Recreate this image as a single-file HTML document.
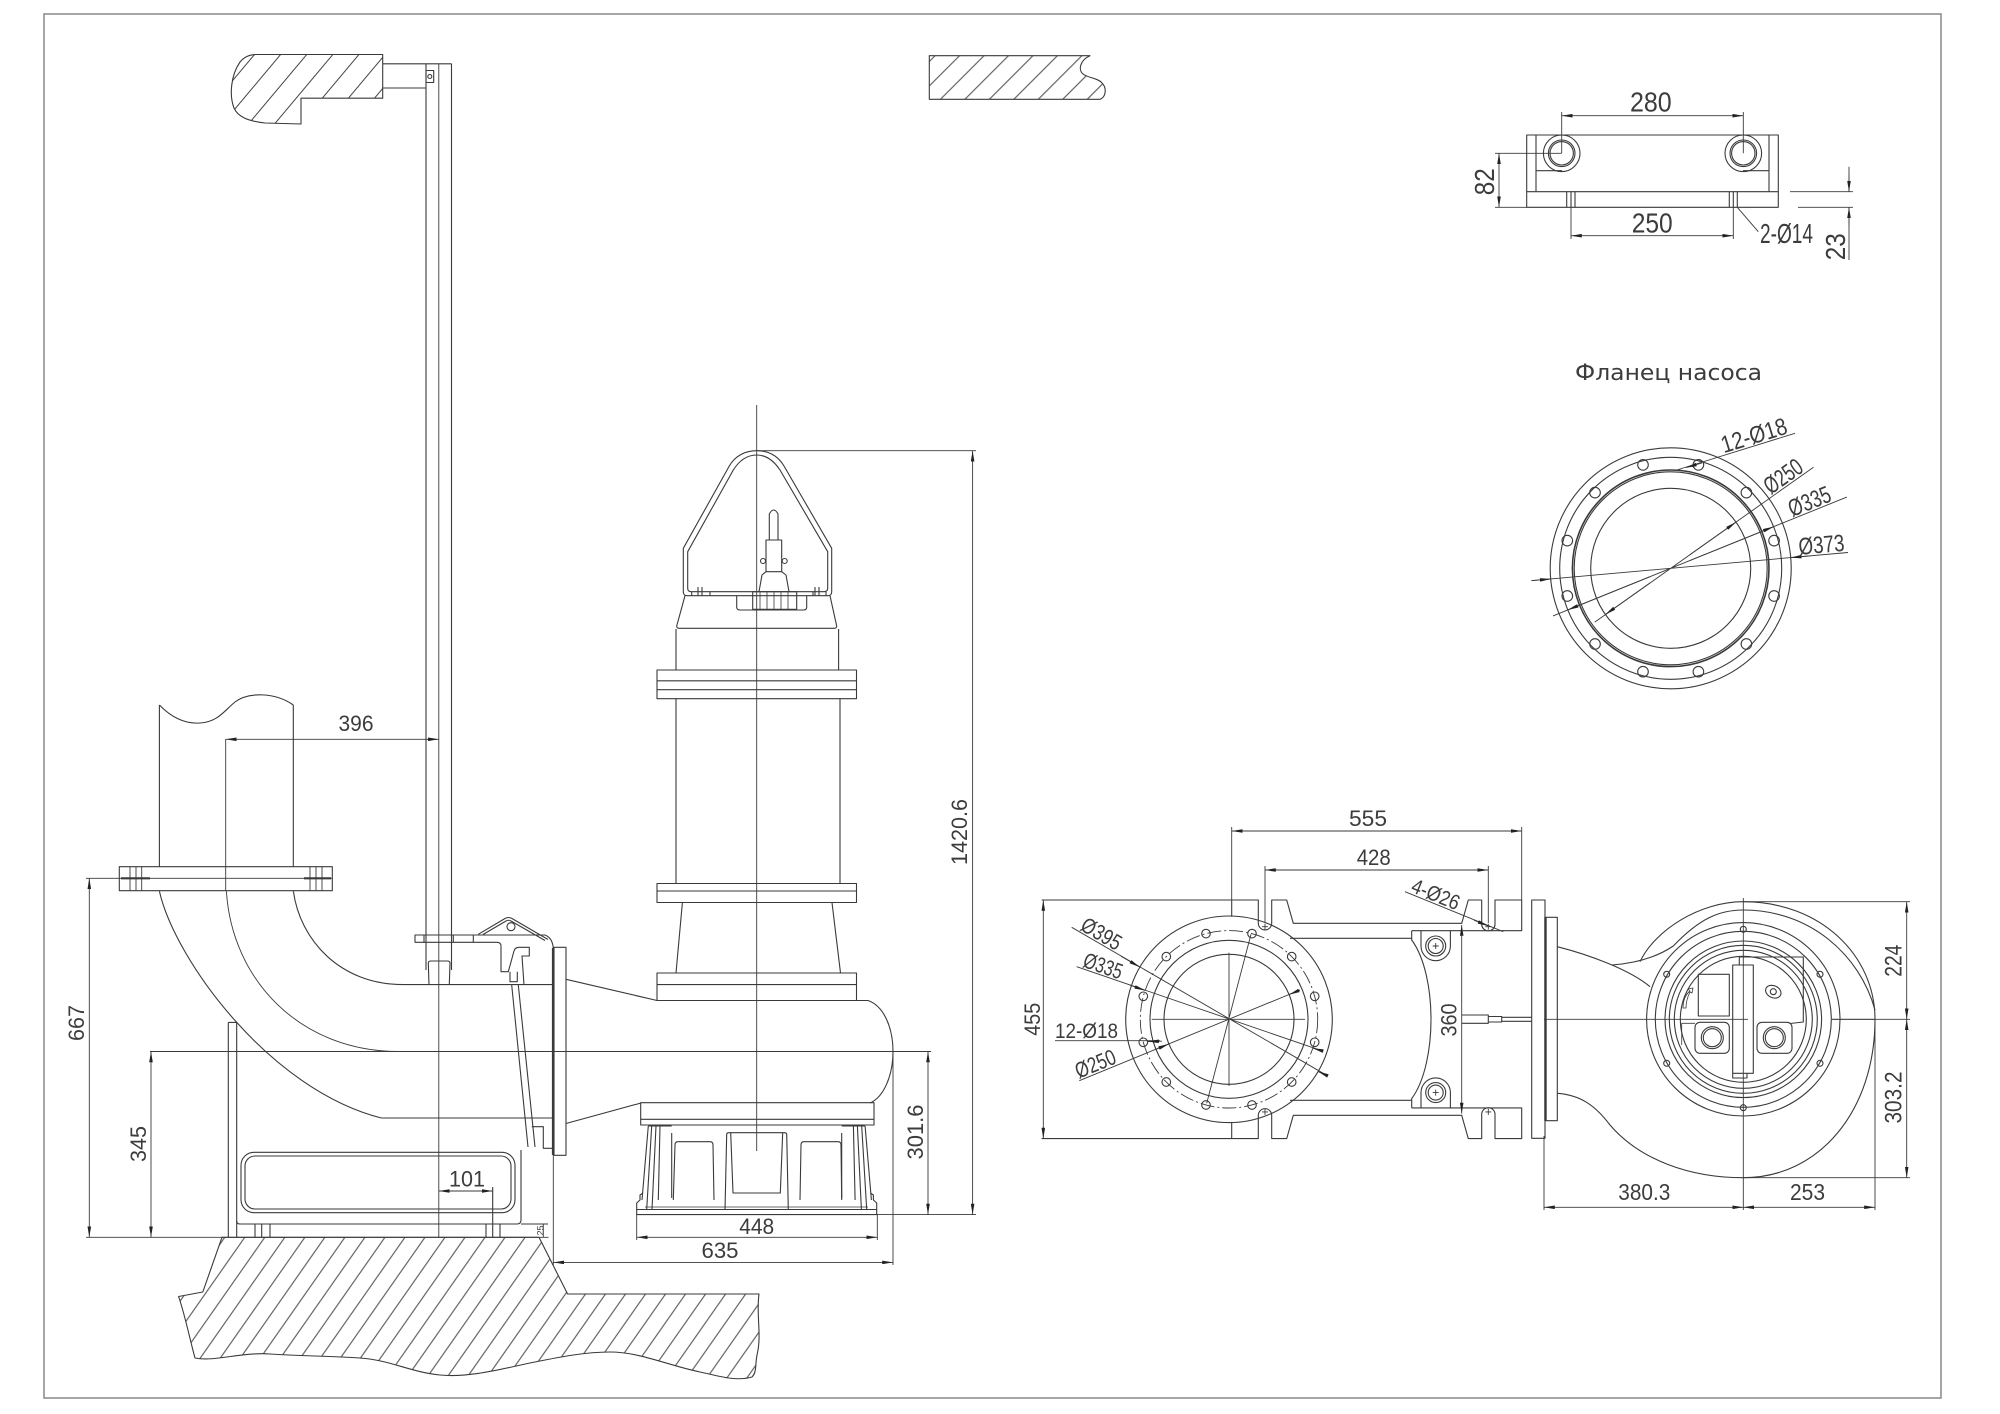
<!DOCTYPE html>
<html><head><meta charset="utf-8"><style>
html,body{margin:0;padding:0;background:#fff;}
svg{display:block;}
text{font-family:"Liberation Sans","DejaVu Sans",sans-serif;fill:#3c3c3c;stroke:none;}
.d{font-size:22px;text-anchor:middle;}
.b{font-size:28px;text-anchor:middle;}
</style></head><body>
<svg width="2000" height="1414" viewBox="0 0 2000 1414" xmlns="http://www.w3.org/2000/svg">
<defs>
<marker id="a" viewBox="0 0 12 4" refX="12" refY="2" markerWidth="11" markerHeight="3.6" orient="auto-start-reverse" markerUnits="userSpaceOnUse"><path d="M0,0L12,2L0,4z" fill="#222"/></marker>
<pattern id="h45" patternUnits="userSpaceOnUse" width="17.3" height="20" patternTransform="rotate(45)"><path d="M8.6,0V20" stroke="#444" stroke-width="1"/></pattern>
<pattern id="htl" patternUnits="userSpaceOnUse" width="20" height="20" patternTransform="rotate(40)"><path d="M10,0V20" stroke="#444" stroke-width="1"/></pattern>
<pattern id="hg" patternUnits="userSpaceOnUse" width="16.4" height="20" patternTransform="rotate(35)"><path d="M8.2,0V20" stroke="#444" stroke-width="1"/></pattern>
</defs>
<rect width="2000" height="1414" fill="#fff"/>
<rect x="44" y="14" width="1897" height="1384" fill="none" stroke="#888" stroke-width="1.5"/>

<g fill="none" stroke="#3a3a3a" stroke-width="1.1" stroke-linejoin="round">
<!-- ===== LEFT ELEVATION ===== -->
<!-- ceiling block 1 -->
<path d="M256,54.5 L382.7,54.5 L382.7,98.2 L301,98.2 L301,124 L265,123 C248,121 238,117 234,108 C229,95 231,75 240,62 C244,57 249,54.5 256,54.5 Z" fill="url(#htl)"/>
<!-- arm -->
<path d="M382.7,63.8 L451.5,63.8 M382.7,88 L426,88"/>
<rect x="426" y="70.5" width="7.7" height="12"/>
<circle cx="429.8" cy="76.5" r="2"/>
<!-- rails -->
<path d="M426,63.8 V970 M451.5,63.8 V970"/>
<path d="M438.8,63.8 V1237" stroke-width="0.9"/>
<!-- ceiling block 2 -->
<path d="M929.3,55.7 L1090,55.7 C1080,60 1078,70 1083,74 C1088,78 1098,78 1102,83 C1107,88 1106,97 1100,99.3 L929.3,99.3 Z" fill="url(#h45)"/>

<!-- discharge pipe -->
<path d="M159.4,705 V866.7 M293.3,705 V866.7"/>
<path d="M159.4,705 C172,718 186,724 200,723 C218,722 225,710 235,702 C248,692 275,692 293.3,705"/>
<path d="M225.7,739 V891" stroke-width="0.9"/>
<rect x="119.3" y="866.7" width="213" height="24"/>
<path d="M119.3,878.3 H332.3" stroke-width="0.9"/>
<path d="M121,878.3 H150 M304,878.3 H331" stroke-width="2.2"/>
<path d="M130,866.7V890.7 M136,866.7V890.7 M141.7,866.7V890.7 M310,866.7V890.7 M316,866.7V890.7 M322,866.7V890.7" stroke-width="0.9"/>
<!-- elbow -->
<path d="M159.4,891.3 C175,960 270,1090 381.4,1118"/>
<path d="M293.4,891.3 C300,940 340,984.6 403,984.6"/>
<path d="M226.4,891.3 C232,980 300,1051.5 398.6,1051.5" stroke-width="0.9"/>
<path d="M403,984.6 H553.3 M381.4,1118 H553.3"/>
<path d="M150,1051.5 H931" stroke-width="0.9"/>
<!-- stand / box -->
<path d="M228.3,1022.4 V1237 M236.7,1022.4 V1237 M228.3,1022.4 H236.7"/>
<path d="M236.7,1221 Q236.7,1224 240,1224 L517,1224 Q521,1224 521,1220 L521,1150"/>
<rect x="241" y="1152.3" width="274" height="60.4" rx="13"/>
<rect x="245" y="1156" width="266" height="53" rx="10"/>
<path d="M255,1224V1237 M261.7,1224V1237 M270,1224V1237 M486,1224V1237 M492.7,1187V1237 M500,1224V1237"/>
<!-- coupling rods -->
<path d="M511.7,985 L528,1147 M518.3,985 L535,1147"/>
<path d="M531.7,1126.7 H543.3 V1148.3 H553.3"/>
<path d="M521,1224 H548 M543.3,1224 V1237" stroke-width="0.9"/>
<!-- outlet flange plate -->
<rect x="554" y="947.3" width="12" height="208"/>
<path d="M552.7,948 V1155" stroke-width="1.6"/>
<path d="M553.3,1155 V1265" stroke-width="0.9"/>
<!-- bracket -->
<rect x="415" y="935" width="58.3" height="7.3"/>
<path d="M424,935V942.3 M453.3,935V942.3"/>
<path d="M473.3,935 L545,935 C550,937 553.3,942 553.3,950 L553.3,985"/>
<path d="M478.3,934.3 L505,918.5 Q508.5,916.5 512,918.5 L548,939.5"/>
<path d="M483,934.5 L506,921 Q508.5,919.5 511,921 L545,940.5"/>
<circle cx="511" cy="926.7" r="4"/>
<path d="M473.3,942.3 L497,942.3 Q501,942.3 501,946.3 L501,971.7 L508.3,971.7 L514,951 Q515,947.3 519,947.3 L529.3,947.3 L529.3,956 L522,956 L524,985"/>
<path d="M510,971.7 L510,981.7 L517.3,981.7 L517.3,971.7"/>
<path d="M429,984.6 L428.3,963 Q428.3,961 431,961 L447.3,961 Q450,961 450,963 L449.3,984.6"/>
<!-- discharge taper / volute -->
<path d="M566,979.3 L657,1000.5 M566,1123.5 L641,1103"/>
<path d="M856.5,1000.5 L868,1000.5 C884,1006 893,1028 893,1051.5 C893,1075 884,1097 870,1103"/>
<rect x="640.7" y="1102.7" width="233.3" height="22.3"/>
<path d="M640.7,1119.3 H874"/>
<!-- motor -->
<rect x="657" y="973" width="199.5" height="27.5"/>
<path d="M657,984.6 H856.5"/>
<path d="M682.4,902.6 L676,973 M832,902.6 L840.5,973"/>
<rect x="657" y="883.5" width="199.5" height="19"/>
<path d="M657,891 H856.5"/>
<path d="M676,698.7 V883.5 M840,698.7 V883.5"/>
<rect x="657" y="670" width="199.5" height="28.7"/>
<path d="M657,680.8 H856.5 M657,689.7 H856.5"/>
<path d="M676,629 V670 M838.6,629 V670"/>
<path d="M685,595.7 L676.7,626 Q676.7,628.3 679,628.3 L834.4,628.3 Q836.7,628.3 836.7,626 L830,595.7"/>
<path d="M736.7,595.7 L736.7,607 Q736.7,610 740,610 L803.7,610 Q806.7,610 806.7,607 L806.7,595.7"/>
<!-- handle -->
<path d="M683.3,591.7 L683.3,548.3 L729.3,466 C735,456 745,450.7 756.7,450.7 C768.4,450.7 778,456 784,466 L831.7,548.3 L831.7,591.7 Q831.7,595.7 827.7,595.7 L687.3,595.7 Q683.3,595.7 683.3,591.7 Z"/>
<path d="M687.7,588.3 L687.7,551.7 L733.3,470 C739,461 747,455 756.7,455 C766.4,455 774,461 780,470 L827.7,551.7 L827.7,588.3 Q827.7,591.7 824,591.7 L691,591.7 Q687.7,591.7 687.7,588.3 Z"/>
<path d="M691.7,591.7 V595.7 M710,591.7 V595.7 M698,587 V595.7 M702,587 V595.7 M813,591.7 V595.7 M826,591.7 V595.7 M815,587 V595.7 M819,587 V595.7"/>
<!-- cable gland -->
<path d="M769.3,540 L769.3,514 Q773.7,506 778,514 L778,540"/>
<rect x="766" y="540" width="15.7" height="31.7"/>
<path d="M766,571.7 L762,575 L759,591.7 M781.7,571.7 L786,575 L789,591.7"/>
<circle cx="763" cy="561" r="2.5"/><circle cx="784.7" cy="561" r="2.5"/>
<rect x="752.7" y="591.7" width="44" height="17.6"/>
<path d="M760,591.7V609.3 M767,591.7V609.3 M774,591.7V609.3 M781,591.7V609.3 M788,591.7V609.3" stroke-width="0.8"/>
<!-- centreline -->
<path d="M756.7,405 V1151" stroke-width="0.9"/>
<!-- feet -->
<rect x="636.7" y="1209.5" width="240" height="5.1"/>
<path d="M645,1207 H868" stroke-width="0.8"/>
<path d="M636.7,1209.5 L636.7,1203 L640,1200 L640,1195 L643,1193 M876.7,1209.5 L876.7,1203 L873.4,1200 L873.4,1195 L870.4,1193"/>
<path d="M648.3,1126 L642,1200 M651.7,1126 L646.7,1209.5 M656,1126 L652,1209.5 M660,1126 L658.3,1200 M671.7,1133 L671.7,1198 M648.3,1126 H671.7"/>
<path d="M865.1,1126 L871.4,1200 M861.7,1126 L866.7,1209.5 M857.4,1126 L861.4,1209.5 M853.4,1126 L855.1,1200 M841.7,1133 L841.7,1198 M865.1,1126 H841.7"/>
<path d="M725,1210 L726.7,1134 Q727,1132.7 729,1132.7 L784.3,1132.7 Q786.3,1132.7 786.7,1134 L788.3,1210"/>
<path d="M730.7,1132.7 L733,1193 L780.3,1193 L782.7,1132.7"/>
<path d="M673.3,1200 L675,1145 Q675,1141.7 678,1141.7 L710,1141.7 Q713,1141.7 713,1145 L714,1200"/>
<path d="M800,1200 L801,1145 Q801,1141.7 804,1141.7 L838,1141.7 Q841,1141.7 841,1145 L841.7,1200"/>
<!-- ground -->
<path d="M222,1237.3 L539,1237.3 L567.6,1294 L759,1294 C756,1315 762,1335 757,1355 C755,1365 757,1372 752,1377 C735,1382 715,1375 700,1372 C670,1366 640,1352 610,1352 C585,1352 560,1357 535,1362 C505,1368 470,1378 440,1375 C410,1372 390,1360 360,1358 C330,1356 300,1356 270,1354 C240,1352 215,1362 195,1358 C190,1340 185,1315 178.6,1296.5 L202.8,1292 Z" fill="url(#hg)"/>
<!-- left dims -->
<path d="M86,878.3 H119.3 M86,1237.3 H548.5" stroke-width="0.9"/>
<line x1="89.3" y1="878.3" x2="89.3" y2="1237.3" marker-start="url(#a)" marker-end="url(#a)" stroke-width="0.9"/>
<line x1="151" y1="1051.5" x2="151" y2="1237.3" marker-start="url(#a)" marker-end="url(#a)" stroke-width="0.9"/>
<line x1="225.7" y1="739.3" x2="438.8" y2="739.3" marker-start="url(#a)" marker-end="url(#a)" stroke-width="0.9"/>
<line x1="438.8" y1="1191" x2="492.7" y2="1191" marker-start="url(#a)" marker-end="url(#a)" stroke-width="0.9"/>
<path d="M757,450.7 H976 M874,1214.6 H976 M893,1051.5 V1265 M931,1051.5 H931 M636.7,1214 V1240 M877.3,1214 V1240" stroke-width="0.9"/>
<line x1="972.6" y1="450.7" x2="972.6" y2="1214.6" marker-start="url(#a)" marker-end="url(#a)" stroke-width="0.9"/>
<line x1="928" y1="1051.5" x2="928" y2="1214.6" marker-start="url(#a)" marker-end="url(#a)" stroke-width="0.9"/>
<line x1="636.7" y1="1237.3" x2="877.3" y2="1237.3" marker-start="url(#a)" marker-end="url(#a)" stroke-width="0.9"/>
<line x1="553.3" y1="1262.4" x2="893" y2="1262.4" marker-start="url(#a)" marker-end="url(#a)" stroke-width="0.9"/>

<!-- ===== TOP RIGHT BRACKET ===== -->
<rect x="1526.7" y="135" width="251.6" height="72.3"/>
<path d="M1526.7,191.7 H1778.3 M1536,135 V191.7 M1769,135 V191.7 M1536,170.7 H1562 M1743,170.7 H1769"/>
<circle cx="1561.7" cy="153.3" r="18.3"/><circle cx="1561.7" cy="153.3" r="13.3"/><circle cx="1561.7" cy="153.3" r="11.7"/>
<circle cx="1743.3" cy="153.3" r="18.3"/><circle cx="1743.3" cy="153.3" r="13.3"/><circle cx="1743.3" cy="153.3" r="11.7"/>
<path d="M1566.7,191.7V207.3 M1571,191.7V207.3 M1575,191.7V207.3 M1729.3,191.7V207.3 M1733.3,191.7V207.3 M1737.3,191.7V207.3"/>
<path d="M1561.7,112 V153.3 M1743.3,112 V153.3 M1495,153.3 H1561.7 M1495,207.3 H1526.7 M1571,207 V239 M1733.3,207 V239 M1737.3,207.3 L1758.3,231.7 M1790,191.7 H1853 M1798,207.3 H1853 M1849,166.7 V191.7 M1849,207.3 V260" stroke-width="0.9"/>
<line x1="1561.7" y1="115.7" x2="1743.3" y2="115.7" marker-start="url(#a)" marker-end="url(#a)" stroke-width="0.9"/>
<line x1="1499" y1="153.3" x2="1499" y2="207.3" marker-start="url(#a)" marker-end="url(#a)" stroke-width="0.9"/>
<line x1="1571" y1="235.7" x2="1733.3" y2="235.7" marker-start="url(#a)" marker-end="url(#a)" stroke-width="0.9"/>
<line x1="1849" y1="175" x2="1849" y2="191.7" marker-end="url(#a)" stroke-width="0.9"/>
<line x1="1849" y1="225" x2="1849" y2="207.3" marker-end="url(#a)" stroke-width="0.9"/>

<!-- ===== PUMP FLANGE VIEW ===== -->
<circle cx="1670.7" cy="568.3" r="120.5"/>
<circle cx="1670.7" cy="568.3" r="111"/>
<circle cx="1670.7" cy="568.3" r="98.3" stroke-width="1.6"/>
<circle cx="1670.7" cy="568.3" r="96.5"/>
<circle cx="1670.7" cy="568.3" r="80"/>
<g>
<circle cx="1774.1" cy="596" r="5.3"/><circle cx="1746.4" cy="644" r="5.3"/><circle cx="1698.4" cy="671.7" r="5.3"/><circle cx="1643" cy="671.7" r="5.3"/><circle cx="1595" cy="644" r="5.3"/><circle cx="1567.3" cy="596" r="5.3"/><circle cx="1567.3" cy="540.6" r="5.3"/><circle cx="1595" cy="492.6" r="5.3"/><circle cx="1643" cy="464.9" r="5.3"/><circle cx="1698.4" cy="464.9" r="5.3"/><circle cx="1746.4" cy="492.6" r="5.3"/><circle cx="1774.1" cy="540.6" r="5.3"/>
</g>
<path d="M1531.3,580.7 L1848,552.5 M1553,615.9 L1846.8,497.1 M1594.8,622.1 L1813.5,467.2 M1676.7,470 L1795,433.3" stroke-width="0.9"/>
<line x1="1532" y1="580.6" x2="1550.7" y2="579" marker-end="url(#a)" stroke-width="0.9"/>
<line x1="1810" y1="555.9" x2="1790.7" y2="557.6" marker-end="url(#a)" stroke-width="0.9"/>
<line x1="1650" y1="576.7" x2="1567.8" y2="609.9" marker-end="url(#a)" stroke-width="0.9"/>
<line x1="1690" y1="560.5" x2="1773.6" y2="526.7" marker-end="url(#a)" stroke-width="0.9"/>
<line x1="1650" y1="583" x2="1605.4" y2="614.5" marker-end="url(#a)" stroke-width="0.9"/>
<line x1="1690" y1="554.6" x2="1736" y2="522.1" marker-end="url(#a)" stroke-width="0.9"/>
<line x1="1702" y1="462.9" x2="1686" y2="467.6" marker-end="url(#a)" stroke-width="0.9"/>

<!-- ===== PLAN VIEW ===== -->
<g id="pt">
<path d="M1041.7,900 L1258.3,900 L1258.3,923.3 A6.7,6.7 0 0 0 1271.7,923.3 L1271.7,900 L1286.7,900 L1293.3,923.3 L1461.7,923.3 L1468.3,900 L1481.7,900 L1481.7,925 A6.7,6.7 0 0 0 1495,925 L1495,900 L1521.7,900 L1521.7,930.7 L1411.7,930.7"/>
<path d="M1231.7,900 V916.7 M1290,938.3 H1411.7"/>
<path d="M1411.7,930.7 L1411.7,940 C1425,958 1431,990 1431,1019.3"/>
<path d="M1421,930.7 L1421,946 A14.7,14.7 0 0 0 1450.4,946 L1450.4,930.7"/>
<circle cx="1435.7" cy="946" r="10"/><circle cx="1435.7" cy="946" r="7.5"/>
<path d="M1432.7,946 H1438.7 M1435.7,943 V949 M1262,926.7 H1268 M1265,923.7 V929.7 M1485.3,926.7 H1491.3 M1488.3,923.7 V929.7" stroke-width="0.9"/>
</g>
<use href="#pt" transform="translate(0,2038.6) scale(1,-1)"/>
<rect x="1531.7" y="900" width="13.3" height="238.3"/>
<rect x="1545" y="917.3" width="12.3" height="203.4"/>
<path d="M1545.5,917.3 V1120.7" stroke-width="2.4"/>
<path d="M1461.7,1015 H1488.3 V1023.3 H1461.7 M1488.3,1016.5 H1501.7 V1022 H1488.3 M1501.7,1017.3 H1531.7 M1501.7,1021.3 H1531.7"/>
<!-- left flange circle -->
<circle cx="1229" cy="1019.3" r="103.3"/>
<circle cx="1229" cy="1019.3" r="88.7" stroke-dasharray="14 3 2 3" stroke-width="0.9"/>
<circle cx="1229" cy="1019.3" r="79"/>
<circle cx="1229" cy="1019.3" r="65"/>
<g>
<circle cx="1314.7" cy="1042.3" r="4.3"/><circle cx="1291.7" cy="1082" r="4.3"/><circle cx="1252" cy="1105" r="4.3"/><circle cx="1206" cy="1105" r="4.3"/><circle cx="1166.3" cy="1082" r="4.3"/><circle cx="1143.3" cy="1042.3" r="4.3"/><circle cx="1143.3" cy="996.3" r="4.3"/><circle cx="1166.3" cy="956.6" r="4.3"/><circle cx="1206" cy="933.6" r="4.3"/><circle cx="1252" cy="933.6" r="4.3"/><circle cx="1291.7" cy="956.6" r="4.3"/><circle cx="1314.7" cy="996.3" r="4.3"/>
</g>
<path d="M1151.7,1019.3 H1305 M1229,952.7 V1086 M1206.7,1103.3 L1251,934.3" stroke-width="0.9"/>
<path d="M1071.7,927.3 L1327.3,1075.7 M1076.7,966.7 L1321.7,1050.7 M1079.3,1080.7 L1300,990 M1055,1040.7 H1160 M1405,891.7 L1503.3,931.7" stroke-width="0.9"/>
<line x1="1121" y1="956.2" x2="1139.8" y2="967.1" marker-end="url(#a)" stroke-width="0.9"/>
<line x1="1327.3" y1="1075.7" x2="1318.1" y2="1071.5" marker-end="url(#a)" stroke-width="0.9"/>
<line x1="1129.7" y1="985.1" x2="1145.1" y2="990.4" marker-end="url(#a)" stroke-width="0.9"/>
<line x1="1321.7" y1="1050.7" x2="1312.9" y2="1048.2" marker-end="url(#a)" stroke-width="0.9"/>
<line x1="1155" y1="1049.7" x2="1168.9" y2="1044" marker-end="url(#a)" stroke-width="0.9"/>
<line x1="1300" y1="990" x2="1289.1" y2="994.6" marker-end="url(#a)" stroke-width="0.9"/>
<line x1="1162" y1="1041.2" x2="1148" y2="1041.5" marker-end="url(#a)" stroke-width="0.9"/>
<line x1="1474" y1="920.2" x2="1488.3" y2="926" marker-end="url(#a)" stroke-width="0.9"/>
<!-- plan dims -->
<path d="M1231.7,827 V900 M1521.7,827 V900 M1265,866 V923 M1488.3,866 V923 M1041.7,1138.6 H1231.7" stroke-width="0.9"/>
<line x1="1231.7" y1="831" x2="1521.7" y2="831" marker-start="url(#a)" marker-end="url(#a)" stroke-width="0.9"/>
<line x1="1265" y1="870" x2="1488.3" y2="870" marker-start="url(#a)" marker-end="url(#a)" stroke-width="0.9"/>
<line x1="1043.3" y1="900" x2="1043.3" y2="1138.6" marker-start="url(#a)" marker-end="url(#a)" stroke-width="0.9"/>
<line x1="1461.7" y1="925" x2="1461.7" y2="1113.6" marker-start="url(#a)" marker-end="url(#a)" stroke-width="0.9"/>

<!-- volute plan -->
<path d="M1640,961.7 C1655,930 1700,901.7 1743.3,901.7 C1820,901.7 1875,955 1875,1019.3 C1875,1110 1820,1177.7 1743.3,1177.7 C1690,1177.7 1640,1160 1610,1125 C1595,1105 1580,1095 1557.3,1093.3"/>
<path d="M1611.7,965 C1640,963 1660,955 1673.3,946 C1700,918 1720,910 1743.3,910 C1810,910 1860,955 1875,1010"/>
<path d="M1557.3,946.7 C1590,955 1630,970 1650,986.7"/>
<circle cx="1743.3" cy="1019.3" r="96.7"/>
<circle cx="1743.3" cy="1019.3" r="88"/>
<circle cx="1743.3" cy="1019.3" r="78.3"/>
<circle cx="1743.3" cy="1019.3" r="74"/>
<circle cx="1743.3" cy="1019.3" r="69"/>
<circle cx="1743.3" cy="1019.3" r="63"/>
<circle cx="1743.3" cy="929.3" r="3"/><circle cx="1666.7" cy="974.3" r="3"/><circle cx="1820" cy="974.3" r="3"/><circle cx="1666.7" cy="1063.3" r="3"/><circle cx="1820" cy="1063.3" r="3"/><circle cx="1743.3" cy="1107.7" r="3"/>
<rect x="1732.7" y="965" width="20.6" height="108.3"/>
<path d="M1739.3,965 L1739.3,957 L1803.3,957 L1803.3,1022 L1790,1023.5 M1732.7,1073.3 L1732.7,1078 L1747,1078 L1747,1073.3"/>
<rect x="1698.3" y="974.3" width="31" height="41.7"/>
<rect x="1695" y="1022.3" width="34.3" height="31" rx="5"/>
<circle cx="1712.3" cy="1037.7" r="11"/><circle cx="1712.3" cy="1037.7" r="9"/>
<rect x="1757" y="1022.3" width="35" height="31" rx="5"/>
<circle cx="1774.3" cy="1037.7" r="11"/><circle cx="1774.3" cy="1037.7" r="9"/>
<ellipse cx="1773.3" cy="991.7" rx="8" ry="6" transform="rotate(25 1773.3 991.7)"/>
<circle cx="1773.3" cy="991.7" r="3"/>
<path d="M1683,1008 C1683,1000 1686,994 1690,991 L1688,989 L1693,988 L1692,993 L1690,992 C1688,996 1686,1002 1686,1008 Z" stroke-width="0.8"/>
<path d="M1681.7,1023.3 V1045 M1681.7,1023.3 H1695" stroke-width="0.8"/>
<path d="M1544,1019.3 H1748 M1832,1019.3 H1875 M1743.3,898 V1210 M1544,1136 V1210" stroke-width="0.9"/>
<!-- volute dims -->
<path d="M1743.3,901.7 H1910 M1832,1019.3 H1910 M1743.3,1177.7 H1910 M1875,1019.3 V1210" stroke-width="0.9"/>
<line x1="1906.7" y1="901.7" x2="1906.7" y2="1019.3" marker-start="url(#a)" marker-end="url(#a)" stroke-width="0.9"/>
<line x1="1906.7" y1="1019.3" x2="1906.7" y2="1177.7" marker-start="url(#a)" marker-end="url(#a)" stroke-width="0.9"/>
<line x1="1544" y1="1207.3" x2="1743.3" y2="1207.3" marker-start="url(#a)" marker-end="url(#a)" stroke-width="0.9"/>
<line x1="1743.3" y1="1207.3" x2="1875" y2="1207.3" marker-start="url(#a)" marker-end="url(#a)" stroke-width="0.9"/>
</g>

<!-- ===== TEXT ===== -->
<text class="d" x="356" y="731" textLength="35" lengthAdjust="spacingAndGlyphs">396</text>
<text class="d" transform="translate(76,1023) rotate(-90)" y="8" textLength="36" lengthAdjust="spacingAndGlyphs">667</text>
<text class="d" transform="translate(138,1144) rotate(-90)" y="8" textLength="36" lengthAdjust="spacingAndGlyphs">345</text>
<text class="d" x="467" y="1186.5" textLength="36" lengthAdjust="spacingAndGlyphs">101</text>
<text style="font-size:9px;text-anchor:middle" transform="translate(540.5,1230.5) rotate(-90)" y="3">25</text>
<text class="d" transform="translate(959,832) rotate(-90)" y="8" textLength="66" lengthAdjust="spacingAndGlyphs">1420.6</text>
<text class="d" transform="translate(915,1132) rotate(-90)" y="8" textLength="55" lengthAdjust="spacingAndGlyphs">301.6</text>
<text class="d" x="756.7" y="1234" textLength="35" lengthAdjust="spacingAndGlyphs">448</text>
<text class="d" x="720" y="1258" textLength="37" lengthAdjust="spacingAndGlyphs">635</text>

<text class="b" x="1650.8" y="111.7" textLength="41.7" lengthAdjust="spacingAndGlyphs">280</text>
<text class="b" x="1652.2" y="232.7" textLength="41" lengthAdjust="spacingAndGlyphs">250</text>
<text class="b" transform="translate(1484,181.7) rotate(-90)" y="10" textLength="27" lengthAdjust="spacingAndGlyphs">82</text>
<text class="b" transform="translate(1835,246.7) rotate(-90)" y="10" textLength="27" lengthAdjust="spacingAndGlyphs">23</text>
<text style="font-size:28px" x="1760" y="243" textLength="53" lengthAdjust="spacingAndGlyphs">2-Ø14</text>

<text style="font-family:'DejaVu Sans',sans-serif;font-size:22px" x="1575" y="380" textLength="187" lengthAdjust="spacingAndGlyphs">Фланец насоса</text>
<text style="font-size:24px;text-anchor:middle" transform="translate(1757,445.1) rotate(-17.2)" y="-2" textLength="68" lengthAdjust="spacingAndGlyphs">12-Ø18</text>
<text style="font-size:24px;text-anchor:middle" transform="translate(1789,484.5) rotate(-35.3)" y="-2" textLength="42" lengthAdjust="spacingAndGlyphs">Ø250</text>
<text style="font-size:24px;text-anchor:middle" transform="translate(1813.3,510.7) rotate(-22)" y="-2" textLength="44" lengthAdjust="spacingAndGlyphs">Ø335</text>
<text style="font-size:24px;text-anchor:middle" transform="translate(1822.3,554.8) rotate(-5.1)" y="-2" textLength="46" lengthAdjust="spacingAndGlyphs">Ø373</text>

<text class="d" x="1368" y="826" textLength="38" lengthAdjust="spacingAndGlyphs">555</text>
<text class="d" x="1373.7" y="865" textLength="34" lengthAdjust="spacingAndGlyphs">428</text>
<text style="font-size:21px;text-anchor:middle" transform="translate(1432.3,902.8) rotate(22.1)" y="-2" textLength="50" lengthAdjust="spacingAndGlyphs">4-Ø26</text>
<text class="d" transform="translate(1096.7,941.9) rotate(30.3)" y="-2" textLength="43" lengthAdjust="spacingAndGlyphs">Ø395</text>
<text class="d" transform="translate(1100,974.9) rotate(19)" y="-2" textLength="40" lengthAdjust="spacingAndGlyphs">Ø335</text>
<text style="font-size:21px" x="1055" y="1038" textLength="63" lengthAdjust="spacingAndGlyphs">12-Ø18</text>
<text class="d" transform="translate(1099,1072.6) rotate(-22.3)" y="-2" textLength="42" lengthAdjust="spacingAndGlyphs">Ø250</text>
<text class="d" transform="translate(1032,1019.3) rotate(-90)" y="8" textLength="33" lengthAdjust="spacingAndGlyphs">455</text>
<text class="d" transform="translate(1448.3,1020) rotate(-90)" y="8" textLength="33" lengthAdjust="spacingAndGlyphs">360</text>
<text style="font-size:24px;text-anchor:middle" transform="translate(1892.5,960.7) rotate(-90)" y="9" textLength="32" lengthAdjust="spacingAndGlyphs">224</text>
<text style="font-size:24px;text-anchor:middle" transform="translate(1892.5,1097.5) rotate(-90)" y="9" textLength="52" lengthAdjust="spacingAndGlyphs">303.2</text>
<text style="font-size:23px;text-anchor:middle" x="1644.3" y="1200" textLength="52" lengthAdjust="spacingAndGlyphs">380.3</text>
<text style="font-size:23px;text-anchor:middle" x="1807.5" y="1200" textLength="35" lengthAdjust="spacingAndGlyphs">253</text>
</svg>
</body></html>
